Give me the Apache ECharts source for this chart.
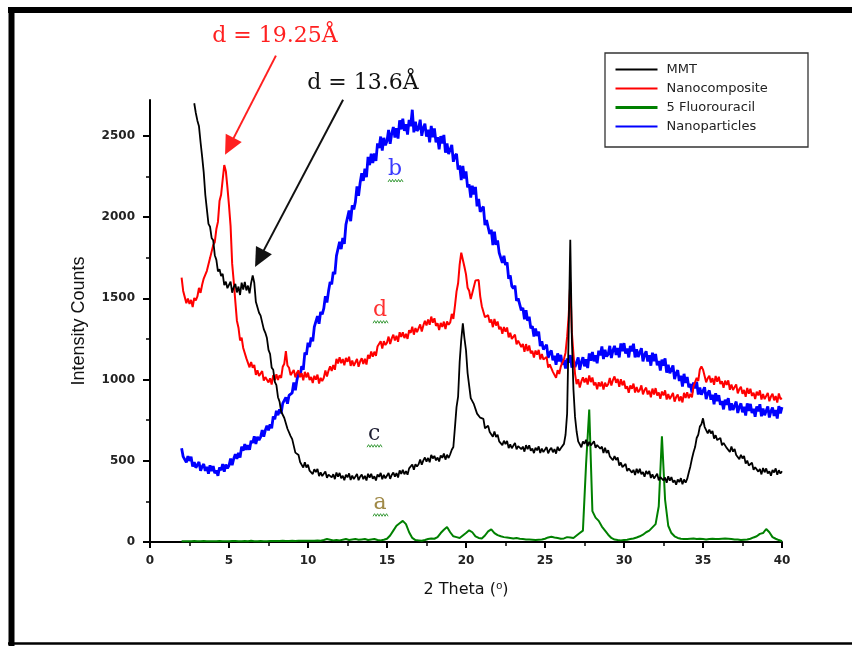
<!DOCTYPE html>
<html><head><meta charset="utf-8">
<script src="https://cdn.jsdelivr.net/npm/echarts@6/dist/echarts.min.js"></script>
<style>html,body{margin:0;padding:0;background:#fff}#c{width:852px;height:646px}</style>
</head><body><div id="c"></div>
<script>
// ---------- data ----------
const seriesNames = ['MMT', 'Nanocomposite', '5 Fluorouracil', 'Nanoparticles'];
const denseStep = 0.1;   // 2θ step of the noisy scans
const greenStep = 0.2;   // 2θ step of the 5-FU scan
const mmtStart = 2.8;
const mmtY = [
  2700, 2640,
  2593, 2558, 2460, 2372, 2275, 2137, 2047, 1958, 1940, 1871,
  1857, 1765, 1736, 1665, 1678, 1637, 1650, 1581, 1602, 1562,
  1558, 1602, 1534, 1569, 1588, 1536, 1572, 1520, 1596, 1554,
  1601, 1548, 1578, 1530, 1594, 1640, 1595, 1478, 1486, 1411,
  1393, 1383, 1310, 1287, 1255, 1182, 1157, 1073, 1060, 986,
  965, 891, 864, 803, 803, 763, 762, 697, 699, 652,
  633, 623, 550, 547, 535, 492, 497, 458, 490, 458,
  475, 439, 449, 418, 448, 430, 450, 406, 429, 406,
  411, 434, 395, 415, 427, 398, 417, 387, 428, 402,
  425, 393, 407, 380, 414, 398, 422, 382, 409, 387,
  393, 418, 380, 402, 415, 387, 407, 378, 420, 396,
  420, 389, 404, 379, 415, 401, 425, 386, 413, 392,
  398, 425, 389, 413, 428, 402, 424, 397, 441, 419,
  444, 417, 436, 414, 453, 446, 477, 444, 479, 465,
  478, 508, 475, 502, 520, 495, 517, 491, 536, 514,
  530, 502, 520, 496, 533, 518, 544, 507, 537, 517,
  540, 568, 585, 705, 830, 895, 1110, 1245, 1345, 1255,
  1180, 1040, 962, 885, 878, 848, 845, 790, 795, 765,
  753, 758, 700, 712, 715, 677, 687, 648, 680, 646,
  660, 619, 629, 596, 623, 603, 622, 578, 601, 577,
  588, 610, 570, 590, 602, 571, 587, 556, 596, 571,
  595, 562, 575, 547, 580, 564, 588, 548, 575, 553,
  559, 584, 546, 567, 580, 552, 572, 544, 586, 562,
  577, 569, 604, 660, 790, 1300, 1860, 1250, 940, 770,
  680, 619, 614, 583, 618, 604, 629, 590, 617, 594,
  598, 620, 580, 597, 605, 574, 587, 548, 580, 548,
  565, 527, 535, 503, 529, 505, 520, 471, 489, 461,
  461, 480, 436, 452, 458, 427, 444, 412, 451, 424,
  450, 417, 430, 402, 437, 418, 438, 394, 417, 391,
  398, 420, 380, 399, 409, 379, 397, 365, 405, 378,
  400, 367, 380, 352, 385, 369, 393, 355, 385, 365,
  388, 428, 465, 512, 552, 584, 640, 660, 710, 724,
  761, 709, 704, 668, 692, 668, 684, 637, 657, 627,
  623, 640, 595, 610, 615, 579, 591, 554, 588, 556,
  572, 535, 544, 510, 537, 514, 530, 482, 501, 471,
  469, 488, 444, 460, 467, 433, 449, 416, 455, 429,
  453, 421, 435, 408, 443, 428, 453, 414, 442, 421,
  435
];
const otherStart = 2.0;
const nanocompositeY = [
  1627, 1545, 1536, 1470, 1498, 1465, 1490, 1446, 1502, 1487,
  1511, 1564, 1533, 1583, 1621, 1612, 1669, 1660, 1747, 1754,
  1827, 1845, 1926, 1970, 2098, 2137, 2230, 2320, 2282, 2182,
  2071, 1944, 1713, 1603, 1481, 1362, 1319, 1240, 1257, 1194,
  1197, 1130, 1126, 1075, 1108, 1072, 1090, 1028, 1057, 1022,
  1026, 1052, 993, 1015, 1026, 982, 1007, 969, 1027, 996,
  1032, 997, 1026, 1010, 1078, 1097, 1175, 1086, 1072, 1027,
  1021, 1059, 1013, 1041, 1056, 1014, 1039, 995, 1047, 1012,
  1042, 997, 1016, 978, 1023, 999, 1030, 975, 1010, 990,
  1011, 1056, 1018, 1055, 1081, 1052, 1089, 1060, 1127, 1099,
  1137, 1100, 1126, 1088, 1133, 1109, 1140, 1084, 1117, 1084,
  1091, 1126, 1078, 1111, 1131, 1096, 1127, 1092, 1152, 1129,
  1172, 1140, 1171, 1145, 1203, 1192, 1235, 1191, 1236, 1212,
  1227, 1264, 1218, 1253, 1276, 1240, 1269, 1232, 1291, 1262,
  1291, 1255, 1281, 1250, 1303, 1287, 1325, 1276, 1317, 1292,
  1296, 1339, 1295, 1333, 1361, 1332, 1369, 1337, 1387, 1349,
  1377, 1330, 1346, 1305, 1348, 1323, 1356, 1311, 1357, 1337,
  1351, 1404, 1373, 1453, 1541, 1592, 1709, 1780, 1770, 1694,
  1647, 1565, 1546, 1495, 1533, 1537, 1610, 1600, 1612, 1512,
  1451, 1459, 1383, 1395, 1396, 1350, 1369, 1322, 1372, 1332,
  1357, 1309, 1324, 1281, 1323, 1295, 1320, 1259, 1287, 1250,
  1251, 1276, 1217, 1239, 1248, 1200, 1219, 1170, 1218, 1176,
  1209, 1161, 1176, 1135, 1178, 1153, 1182, 1124, 1157, 1123,
  1121, 1139, 1073, 1093, 1101, 1047, 1059, 1010, 1057, 1034,
  1080, 1080, 1126, 1165, 1262, 1395, 1600, 1290, 1158, 1035,
  971, 1002, 950, 988, 1013, 982, 1009, 969, 1025, 984,
  1012, 965, 981, 940, 983, 957, 987, 938, 980, 957,
  971, 1009, 963, 997, 1019, 980, 1004, 955, 1002, 964,
  992, 943, 958, 918, 964, 943, 975, 920, 954, 922,
  936, 964, 909, 935, 950, 908, 931, 890, 944, 908,
  947, 902, 920, 881, 926, 902, 933, 877, 911, 879,
  886, 917, 864, 892, 908, 867, 896, 859, 918, 887,
  922, 885, 911, 890, 958, 957, 1010, 991, 1062, 1080,
  1061, 1064, 983, 1008, 1023, 982, 1008, 967, 1022, 986,
  1017, 972, 989, 949, 993, 967, 995, 937, 969, 935,
  941, 970, 915, 941, 955, 912, 936, 894, 948, 912,
  943, 899, 918, 880, 925, 902, 933, 877, 911, 879,
  886, 918, 866, 895, 912, 872, 898, 858, 914, 880,
  885
];
const fluorouracilY = [
  5, 5, 5, 5, 6, 5, 5, 6, 5, 5,
  5, 5, 6, 5, 5, 5, 6, 6, 5, 5,
  6, 5, 8, 5, 5, 6, 5, 5, 6, 6,
  6, 6, 7, 6, 6, 7, 6, 7, 8, 7,
  7, 8, 8, 9, 8, 12, 18, 14, 10, 12,
  10, 14, 18, 12, 15, 18, 14, 16, 18, 12,
  15, 18, 12, 10, 14, 20, 40, 70, 100, 115,
  130, 110, 60, 25, 12, 10, 8, 12, 18, 22,
  20, 30, 55, 75, 92, 60, 35, 30, 25, 40,
  55, 72, 60, 35, 25, 22, 40, 65, 78, 55,
  42, 35, 30, 28, 25, 22, 25, 20, 18, 16,
  15, 14, 12, 14, 16, 20, 28, 32, 28, 25,
  20, 22, 30, 28, 25, 40, 55, 70, 480, 815,
  190, 150, 130, 95, 70, 45, 25, 15, 12, 10,
  12, 14, 18, 22, 28, 35, 45, 60, 70, 90,
  110, 220, 650, 260, 100, 55, 35, 25, 20, 18,
  18, 20, 22, 18, 20, 18, 15, 18, 20, 18,
  18, 20, 22, 20, 18, 15, 15, 12, 14, 15,
  20, 28, 35, 50, 55, 80, 60, 30, 20, 12,
  5
];
const nanoparticlesY = [
  577, 525, 536, 490, 528, 499, 525, 464, 492, 457,
  461, 492, 438, 465, 479, 438, 463, 420, 472, 436,
  467, 423, 441, 407, 458, 442, 480, 433, 477, 454,
  471, 514, 473, 513, 541, 512, 549, 520, 587, 562,
  602, 567, 596, 568, 623, 609, 650, 604, 647, 627,
  646, 689, 648, 688, 716, 687, 724, 700, 772, 756,
  807, 780, 816, 792, 853, 845, 890, 851, 902, 892,
  918, 982, 934, 996, 1043, 1018, 1082, 1060, 1166, 1152,
  1226, 1200, 1258, 1235, 1324, 1321, 1390, 1343, 1416, 1401,
  1438, 1512, 1474, 1544, 1600, 1586, 1662, 1648, 1761, 1754,
  1848, 1802, 1871, 1835, 1953, 1946, 2040, 1974, 2072, 2047,
  2093, 2189, 2130, 2211, 2269, 2222, 2297, 2245, 2370, 2319,
  2390, 2332, 2391, 2345, 2453, 2424, 2495, 2408, 2487, 2442,
  2468, 2536, 2450, 2514, 2554, 2489, 2547, 2483, 2595, 2539,
  2605, 2530, 2571, 2507, 2598, 2559, 2660, 2521, 2587, 2530,
  2543, 2599, 2500, 2548, 2574, 2495, 2537, 2460, 2560, 2491,
  2545, 2460, 2491, 2417, 2498, 2452, 2505, 2396, 2452, 2387,
  2393, 2444, 2340, 2376, 2389, 2292, 2317, 2227, 2315, 2237,
  2280, 2182, 2201, 2120, 2193, 2139, 2185, 2066, 2112, 2032,
  2023, 2064, 1950, 1981, 1989, 1895, 1922, 1827, 1910, 1829,
  1856, 1780, 1788, 1718, 1761, 1704, 1720, 1620, 1641, 1574,
  1560, 1578, 1484, 1499, 1498, 1426, 1441, 1370, 1426, 1362,
  1386, 1315, 1328, 1265, 1314, 1268, 1295, 1206, 1236, 1184,
  1183, 1214, 1134, 1164, 1178, 1118, 1147, 1090, 1161, 1112,
  1151, 1092, 1118, 1068, 1129, 1104, 1150, 1073, 1116, 1076,
  1086, 1136, 1060, 1107, 1137, 1081, 1124, 1070, 1160, 1116,
  1170, 1112, 1149, 1100, 1177, 1149, 1203, 1126, 1183, 1141,
  1156, 1207, 1132, 1179, 1207, 1151, 1194, 1136, 1222, 1174,
  1224, 1160, 1191, 1136, 1207, 1173, 1220, 1136, 1186, 1138,
  1148, 1193, 1112, 1152, 1174, 1111, 1149, 1085, 1165, 1112,
  1157, 1088, 1114, 1055, 1122, 1085, 1130, 1042, 1090, 1038,
  1044, 1086, 1002, 1038, 1057, 991, 1024, 957, 1035, 979,
  1016, 952, 973, 920, 981, 946, 985, 908, 951, 906,
  913, 952, 880, 914, 933, 876, 907, 848, 916, 866,
  904, 844, 868, 816, 876, 844, 885, 810, 854, 812,
  822, 864, 794, 832, 853, 798, 832, 778, 853, 807,
  850, 793, 820, 771, 834, 805, 848, 774, 821, 780,
  790, 834, 766, 805, 828, 776, 812, 760, 836, 792,
  830
];
const xTickLabels = [0, 5, 10, 15, 20, 25, 30, 35, 40];
const yTickLabels = [0, 500, 1000, 1500, 2000, 2500];
const yMinorTicks = [250, 750, 1250, 1750, 2250];

// annotation anchors in data coordinates
const peakNotes = [
  {text: 'd = 19.25\u00C5', color: '#ff2020', textAt: [7.91, 3110], from: [7.97, 2993], to: [4.75, 2383]},
  {text: 'd = 13.6\u00C5', color: '#111111', textAt: [13.48, 2820], from: [12.22, 2722], to: [6.65, 1693]}
];
const curveLabels = [
  {text: 'b', at: [15.51, 2294], color: '#3a3aff'},
  {text: 'd', at: [14.56, 1425], color: '#ff3030'},
  {text: 'c', at: [14.18, 662], color: '#1c1c30'},
  {text: 'a', at: [14.56, 237], color: '#a08a48'}
];

// ---------- chart ----------
function pairs(start, step, ys) {
  return ys.map((v, i) => [Math.round((start + i * step) * 100) / 100, v]);
}
const chart = echarts.init(document.getElementById('c'), null, {renderer: 'canvas'});
const axisFont = {fontFamily: 'DejaVu Sans', fontWeight: 'bold', fontSize: 12, color: '#222', formatter: v => String(v)};
const black = '#000';

chart.setOption({
  animation: false,
  backgroundColor: '#fff',
  grid: {left: 150, right: 70, top: 100, bottom: 104},
  legend: {
    orient: 'vertical', left: 614, top: 63, padding: 0,
    itemWidth: 42, itemHeight: 14, itemGap: 6,
    textStyle: {fontFamily: 'DejaVu Sans', fontSize: 13, color: '#222', padding: [0, 0, 0, 4]},
    lineStyle: {width: 2},
    itemStyle: {opacity: 0},
    data: [
      {name: seriesNames[0]},
      {name: seriesNames[1]},
      {name: seriesNames[2], lineStyle: {width: 3}},
      {name: seriesNames[3]}
    ]
  },
  xAxis: {
    type: 'value', min: 0, max: 40, interval: 5,
    axisLine: {show: true, onZero: false, lineStyle: {color: black, width: 2}},
    axisTick: {show: true, length: 6, lineStyle: {color: black, width: 2}},
    minorTick: {show: true, splitNumber: 2, length: 4, lineStyle: {color: black, width: 1.5}},
    axisLabel: Object.assign({margin: 13, customValues: xTickLabels}, axisFont),
    splitLine: {show: false},
    name: '2 Theta (\u2070)', nameLocation: 'middle', nameGap: 40,
    nameTextStyle: {fontFamily: 'DejaVu Sans', fontSize: 16, color: '#111'}
  },
  yAxis: [{
    type: 'value', min: 0, max: 2720, position: 'left',
    axisLine: {show: true, onZero: false, lineStyle: {color: black, width: 2}},
    axisTick: {show: true, length: 7, customValues: yTickLabels, lineStyle: {color: black, width: 2}},
    axisLabel: Object.assign({margin: 15, customValues: yTickLabels}, axisFont),
    splitLine: {show: false},
    name: 'Intensity Counts', nameLocation: 'middle', nameGap: 62,
    nameTextStyle: {fontFamily: 'Liberation Sans', fontSize: 18, color: '#111'}
  }, {
    type: 'value', min: 0, max: 2720, position: 'left',
    axisLine: {show: false},
    axisTick: {show: true, length: 4, customValues: yMinorTicks, lineStyle: {color: black, width: 1.5}},
    axisLabel: {show: false},
    splitLine: {show: false}
  }],
  series: [
    {name: seriesNames[3], type: 'line', data: pairs(otherStart, denseStep, nanoparticlesY), symbol: 'none',
     lineStyle: {color: '#0000ff', width: 2.8}, itemStyle: {color: '#0000ff'}},
    {name: seriesNames[2], type: 'line', data: pairs(otherStart, greenStep, fluorouracilY), symbol: 'none',
     lineStyle: {color: '#008000', width: 2}, itemStyle: {color: '#008000'}},
    {name: seriesNames[1], type: 'line', data: pairs(otherStart, denseStep, nanocompositeY), symbol: 'none',
     lineStyle: {color: '#ff0000', width: 2}, itemStyle: {color: '#ff0000'}},
    {name: seriesNames[0], type: 'line', data: pairs(mmtStart, denseStep, mmtY), symbol: 'none',
     lineStyle: {color: '#000000', width: 1.8}, itemStyle: {color: '#000000'}}
  ]
});

// ---------- annotations ----------
const px = (p) => chart.convertToPixel({xAxisIndex: 0, yAxisIndex: 0}, p);
const g = [];
// outer frame
g.push({type: 'line', shape: {x1: 8, y1: 10, x2: 852, y2: 10}, style: {stroke: '#000', lineWidth: 6}});
g.push({type: 'line', shape: {x1: 11.5, y1: 7, x2: 11.5, y2: 646}, style: {stroke: '#000', lineWidth: 6}});
g.push({type: 'line', shape: {x1: 8, y1: 643.5, x2: 852, y2: 643.5}, style: {stroke: '#000', lineWidth: 2.5}});
// legend box
g.push({type: 'rect', shape: {x: 605, y: 53, width: 203, height: 94}, style: {fill: 'none', stroke: '#333', lineWidth: 1.3}, z: 10});

function arrow(from, to, color) {
  const dx = to[0] - from[0], dy = to[1] - from[1], L = Math.hypot(dx, dy);
  const ux = dx / L, uy = dy / L, hl = 19, hw = 9;
  const bx = to[0] - ux * hl, by = to[1] - uy * hl;
  return [
    {type: 'line', shape: {x1: from[0], y1: from[1], x2: bx + ux * 2, y2: by + uy * 2}, style: {stroke: color, lineWidth: 2}, z: 20},
    {type: 'polygon', shape: {points: [[to[0], to[1]], [bx - uy * hw, by + ux * hw], [bx + uy * hw, by - ux * hw]]}, style: {fill: color}, z: 20}
  ];
}
peakNotes.forEach(n => {
  const t = px(n.textAt);
  g.push({type: 'text', x: t[0], y: t[1], z: 20,
    style: {text: n.text, fill: n.color, font: '22px "DejaVu Serif"', align: 'center', verticalAlign: 'middle'}});
  arrow(px(n.from), px(n.to), n.color).forEach(e => g.push(e));
});
curveLabels.forEach(l => {
  const p = px(l.at);
  g.push({type: 'text', x: p[0], y: p[1], z: 20,
    style: {text: l.text, fill: l.color, font: '22px "DejaVu Serif"', align: 'center', verticalAlign: 'middle'}});
  const pts = [];
  for (let k = 0; k <= 10; k++) pts.push([p[0] - 7 + k * 1.5, p[1] + 11.5 + (k % 2 ? -1.3 : 1.3)]);
  g.push({type: 'polyline', shape: {points: pts}, style: {stroke: '#3c9c3c', lineWidth: 1, fill: 'none'}, z: 20});
});
chart.setOption({graphic: g});
</script>
</body></html>
